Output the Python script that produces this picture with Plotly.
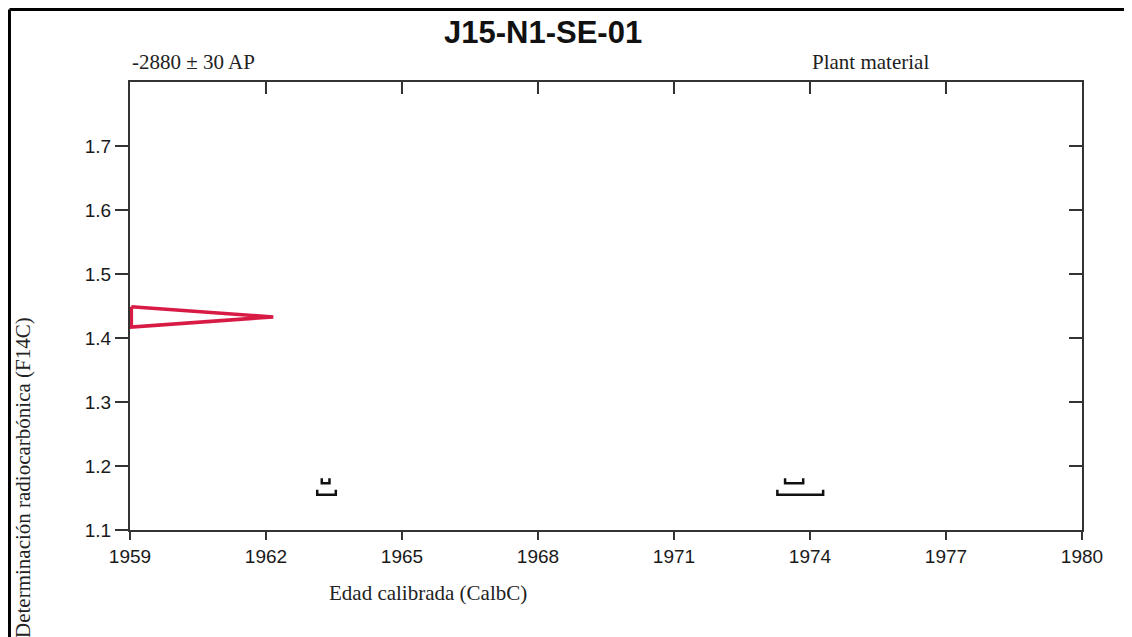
import plotly.graph_objects as go

# === Data ===
title = "J15-N1-SE-01"
age_label = "-2880 ± 30 AP"
material = "Plant material"

x_ticks = [1959, 1962, 1965, 1968, 1971, 1974, 1977, 1980]
y_ticks = [1.1, 1.2, 1.3, 1.4, 1.5, 1.6, 1.7]

# measured F14C distribution drawn as a triangle (year, F14C)
meas_x = [1959.03, 1962.16, 1959.03, 1959.03]
meas_y = [1.449, 1.433, 1.417, 1.449]

# calibrated ranges: 1 sigma (upper row) and 2 sigma (lower row)
sigma1_ranges = [(1963.23, 1963.40), (1973.45, 1973.85)]
sigma2_ranges = [(1963.13, 1963.54), (1973.28, 1974.29)]
sigma1_level = 1.173
sigma2_level = 1.155
bracket_h = 0.008

AX = "#333333"
SERIF = "Liberation Serif, Times New Roman, serif"
SANS = "Liberation Sans, Arial, sans-serif"

fig = go.Figure()

fig.add_trace(go.Scatter(
    x=meas_x, y=meas_y, mode="lines",
    line=dict(color="#d81b45", width=3.5), showlegend=False, hoverinfo="skip",
))


def bracket(ranges, level):
    xs, ys = [], []
    for a, b in ranges:
        xs += [a, a, b, b, None]
        ys += [level + bracket_h, level, level, level + bracket_h, None]
    return xs, ys


for rng, lev in [(sigma1_ranges, sigma1_level), (sigma2_ranges, sigma2_level)]:
    bx, by = bracket(rng, lev)
    fig.add_trace(go.Scatter(
        x=bx, y=by, mode="lines", line=dict(color="#111111", width=2.5),
        showlegend=False, hoverinfo="skip",
    ))

# invisible trace to carry the mirrored (inside-tick) axes
fig.add_trace(go.Scatter(x=[x_ticks[0]], y=[y_ticks[0]], xaxis="x2", yaxis="y2",
                         mode="markers", marker=dict(opacity=0), showlegend=False,
                         hoverinfo="skip"))

axis_common = dict(showgrid=False, zeroline=False, tickcolor=AX, tickwidth=2)

# the page body has an 8px margin, so the figure is 8px smaller than the window
fig.update_layout(
    width=1124, height=629,
    margin=dict(l=122, r=50, t=74, b=107),
    plot_bgcolor="white", paper_bgcolor="white",
    xaxis=dict(range=[1959, 1980], tickvals=x_ticks, ticks="outside", ticklen=8,
               showline=True, mirror=True, linecolor=AX, linewidth=2,
               tickfont=dict(family=SANS, size=19, color="#1a1a1a"), **axis_common),
    yaxis=dict(range=[1.1, 1.8], tickvals=y_ticks, ticks="outside", ticklen=13,
               showline=True, mirror=True, linecolor=AX, linewidth=2, tickformat=".1f",
               tickfont=dict(family=SANS, size=19, color="#1a1a1a"), **axis_common),
    xaxis2=dict(range=[1959, 1980], tickvals=x_ticks, ticks="inside", ticklen=12,
                overlaying="x", side="top", showticklabels=False, showline=False,
                anchor="y2", **axis_common),
    yaxis2=dict(range=[1.1, 1.8], tickvals=y_ticks, ticks="inside", ticklen=13,
                overlaying="y", side="right", showticklabels=False, showline=False,
                anchor="x2", **axis_common),
)

# texts
fig.add_annotation(text="<b>" + title + "</b>", xref="paper", yref="paper",
                   x=0.4333, y=1.1116, xanchor="center", yanchor="middle",
                   showarrow=False, font=dict(family=SANS, size=31, color="#111"))
fig.add_annotation(text=age_label, xref="paper", yref="paper", x=0.0, y=1.0446,
                   xanchor="left", yanchor="middle", showarrow=False,
                   font=dict(family=SERIF, size=21, color="#222"))
fig.add_annotation(text=material, xref="paper", yref="paper", x=0.7143, y=1.0446,
                   xanchor="left", yanchor="middle", showarrow=False,
                   font=dict(family=SERIF, size=21, color="#222"))
fig.add_annotation(text="Edad calibrada (CalbC)", xref="paper", yref="paper",
                   x=0.313, y=-0.1406, xanchor="center", yanchor="middle",
                   showarrow=False, font=dict(family=SERIF, size=21, color="#222"))
fig.add_annotation(text="Determinación radiocarbónica (F14C)", xref="paper", yref="paper",
                   x=-0.1124, y=0.1183, xanchor="center", yanchor="middle", textangle=-90,
                   showarrow=False, font=dict(family=SERIF, size=21, color="#222"))

# outer frame (top and left edges of the boxed figure)
fig.add_shape(type="line", xref="paper", yref="paper", x0=-0.1266, x1=1.06,
              y0=1.1618, y1=1.1618, line=dict(color="black", width=3))
fig.add_shape(type="line", xref="paper", yref="paper", x0=-0.1266, x1=-0.1266,
              y0=1.1618, y1=-0.25, line=dict(color="black", width=3))

fig.write_html("out.html")
